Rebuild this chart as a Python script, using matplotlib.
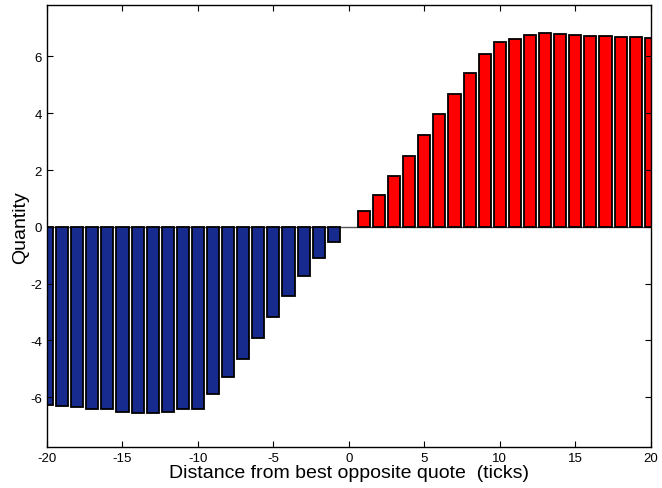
import numpy as np
import matplotlib.pyplot as plt

plt.rcParams['font.family'] = ['Liberation Sans', 'DejaVu Sans']
plt.rcParams['axes.unicode_minus'] = False

# Data
bid_ticks = list(range(-20, 0))
bid_qty = [-6.29, -6.31, -6.35, -6.41, -6.43, -6.53, -6.55, -6.57, -6.51, -6.43,
           -6.43, -5.90, -5.27, -4.64, -3.93, -3.17, -2.45, -1.74, -1.08, -0.52]
ask_ticks = list(range(1, 21))
ask_qty = [0.56, 1.13, 1.78, 2.49, 3.25, 3.99, 4.69, 5.41, 6.07, 6.52,
           6.63, 6.74, 6.81, 6.78, 6.77, 6.73, 6.71, 6.69, 6.67, 6.65]

fig = plt.figure(figsize=(6.62, 4.89), dpi=100)
ax = fig.add_axes([0.071, 0.084, 0.912, 0.903])

ax.bar(bid_ticks, bid_qty, width=0.8, color='#172b8f', edgecolor='black', linewidth=1.3)
ax.bar(ask_ticks, ask_qty, width=0.8, color='#ff0000', edgecolor='black', linewidth=1.3)
ax.axhline(0, color='#555555', linewidth=1.0, zorder=0)

ax.set_xlim(-20, 20)
ax.set_ylim(-7.75, 7.8)
ax.set_xticks(np.arange(-20, 21, 5))
ax.set_yticks(np.arange(-6, 7, 2))
ax.tick_params(direction='in', top=True, right=True, labelsize=9.5, length=4)
for s in ax.spines.values():
    s.set_linewidth(1.0)

ax.set_xlabel('Distance from best opposite quote  (ticks)', fontsize=14, labelpad=0)
ax.set_ylabel('Quantity', fontsize=14, labelpad=1)

fig.savefig('out.png', dpi=100)
